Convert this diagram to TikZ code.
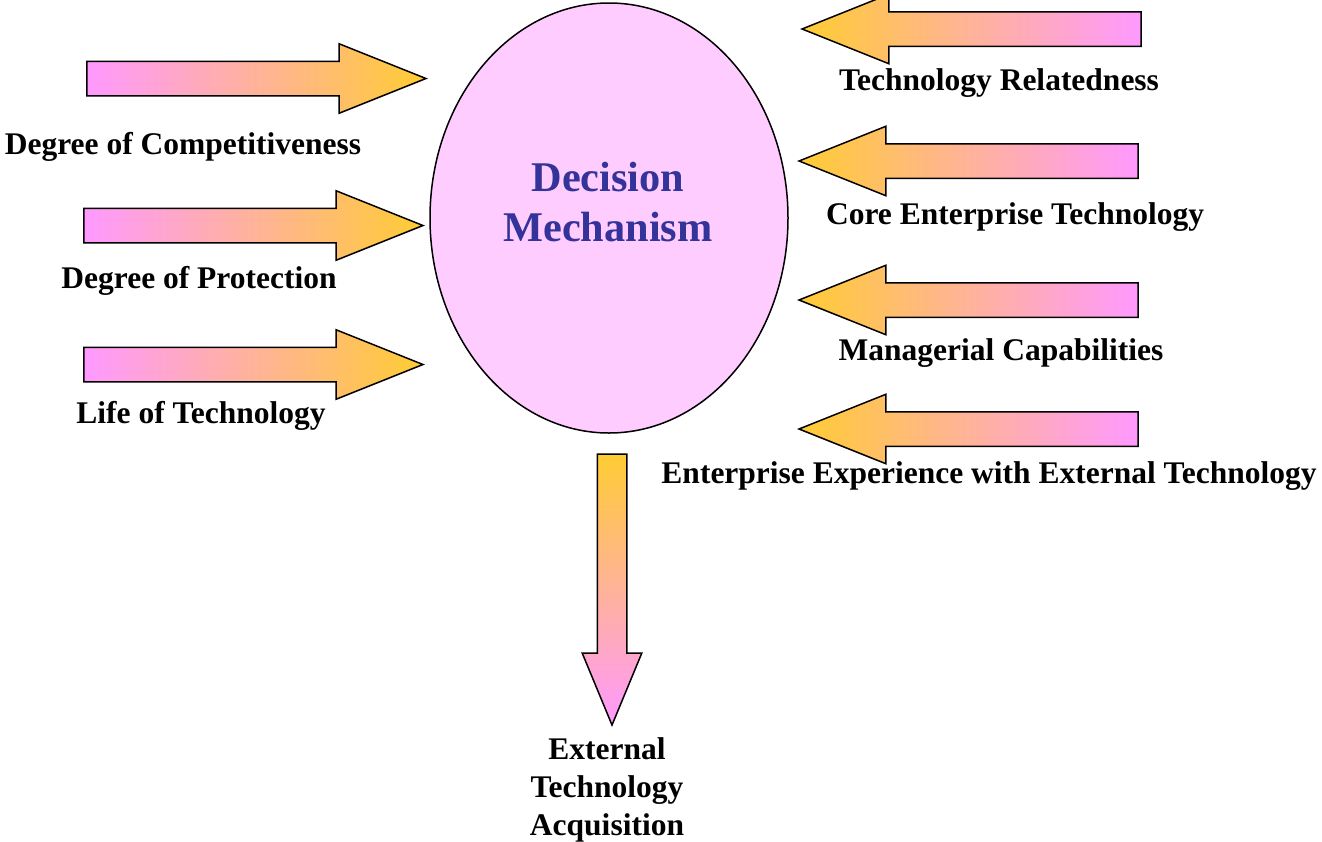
\documentclass[tikz,border=0pt]{standalone}
\usepackage{fontspec}
\setmainfont{Liberation Serif}
\usetikzlibrary{shapes.geometric, shapes.arrows, positioning}
\definecolor{arrowpink}{RGB}{255,153,255}
\definecolor{arrowgold}{RGB}{255,204,51}
\definecolor{ovalpink}{RGB}{255,204,255}
\definecolor{titleblue}{RGB}{51,51,153}

\begin{document}
\begin{tikzpicture}[
    x=1pt, y=-1pt,
    lbl/.style={font=\bfseries\fontsize{31.5}{38}\selectfont, inner sep=0pt, anchor=base},
    inarrow/.style={single arrow, draw=black, line width=1.5pt, inner sep=16.5pt, single arrow head extend=17.5pt, single arrow tip angle=43.6, minimum height=339pt, anchor=tip},
    toright/.style={inarrow, left color=arrowpink, right color=arrowgold},
    toleft/.style={inarrow, shape border rotate=180, left color=arrowgold, right color=arrowpink},
    outarrow/.style={single arrow, draw=black, line width=1.5pt, inner sep=14pt, single arrow head extend=15pt, single arrow tip angle=45, minimum height=271pt, shape border rotate=270, anchor=tip, top color=arrowgold, bottom color=arrowpink}
]
    \useasboundingbox (0,0) rectangle (1322,841);
    % central oval
    \node[ellipse, draw=black, line width=1.5pt, fill=ovalpink, inner sep=0pt, minimum width=358pt, minimum height=430pt] (decision) at (609,218) {};
    \node[font=\bfseries\fontsize{42.3}{50}\selectfont, text=titleblue, align=center] (title) at (608,202) {Decision\\Mechanism};
    % factors on the left
    \node[toright] (arrcompet) at (428,78.5) {};
    \node[toright] (arrprotect) at (425,225.5) {};
    \node[toright] (arrlife) at (425,364.5) {};
    \node[lbl] (compet) at (183,154) {Degree of Competitiveness};
    \node[lbl] (protect) at (199,288) {Degree of Protection};
    \node[lbl] (life) at (201,423) {Life of Technology};
    % factors on the right
    \node[toleft] (arrrelated) at (800,29) {};
    \node[toleft] (arrcore) at (797,161) {};
    \node[toleft] (arrmanag) at (797,300) {};
    \node[toleft] (arrexper) at (797,429) {};
    \node[lbl] (related) at (999,90) {Technology Relatedness};
    \node[lbl] (core) at (1015,224) {Core Enterprise Technology};
    \node[lbl] (manag) at (1001,360) {Managerial Capabilities};
    \node[lbl] (exper) at (989,483) {Enterprise Experience with External Technology};
    % outcome
    \node[outarrow] (arracq) at (612,727) {};
    \node[lbl, anchor=center, align=center] (acq) at (607,790) {External\\Technology\\Acquisition};
\end{tikzpicture}
\end{document}
